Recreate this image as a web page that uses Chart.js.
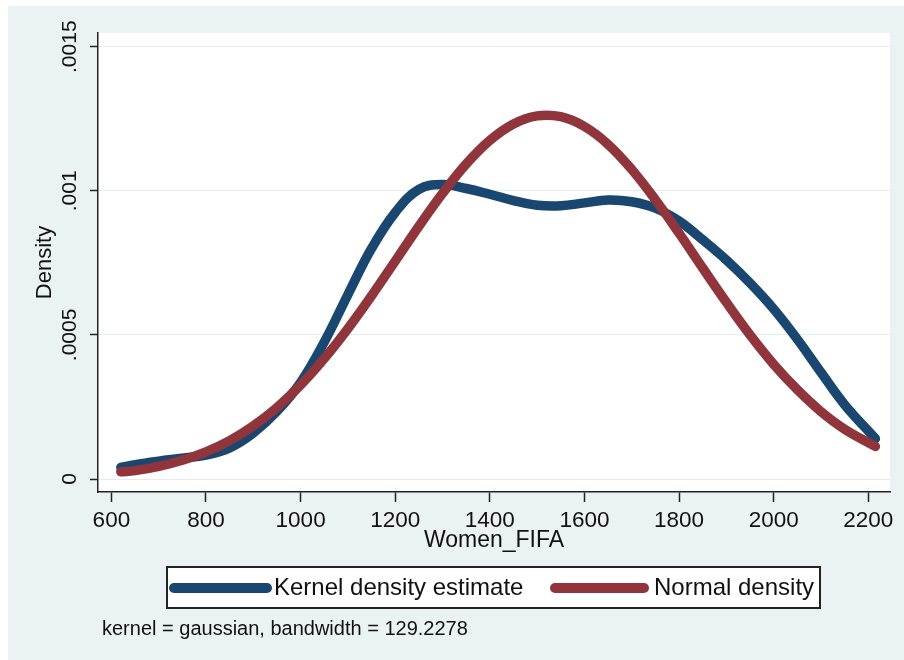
<!DOCTYPE html>
<html>
<head>
<meta charset="utf-8">
<title>Kernel density</title>
<script src="https://cdn.jsdelivr.net/npm/chart.js@4/dist/chart.umd.min.js"></script>
<style>
  html, body { margin: 0; padding: 0; background: #fff; }
  #wrap { position: relative; width: 904px; height: 660px; }
</style>
</head>
<body>
<div id="wrap"><canvas id="kd-chart" width="904" height="660"></canvas></div>
<script>
// values
var xValues = [620, 650, 700, 750, 800, 850, 900, 950, 1000, 1050, 1100, 1150, 1200, 1250, 1300, 1350, 1400,
  1450, 1500, 1550, 1600, 1650, 1700, 1750, 1800, 1850, 1900, 1950, 2000, 2050, 2100, 2150, 2215];
var kernelValues = [0.000040, 0.000050, 0.000062, 0.000072, 0.000083, 0.000108, 0.000160, 0.000235, 0.000335,
  0.000475, 0.000640, 0.000800, 0.000925, 0.001005, 0.001022, 0.001008, 0.000988, 0.000966, 0.000950, 0.000948,
  0.000958, 0.000968, 0.000962, 0.000940, 0.000895, 0.000830, 0.000760, 0.000680, 0.000590, 0.000485, 0.000370,
  0.000258, 0.000140];
var normalValues = [0.000025, 0.000029, 0.000044, 0.000065, 0.000094, 0.000133, 0.000184, 0.000248, 0.000326,
  0.000418, 0.000522, 0.000636, 0.000756, 0.000877, 0.000991, 0.001093, 0.001175, 0.001232, 0.001260, 0.001257,
  0.001223, 0.001161, 0.001074, 0.000969, 0.000853, 0.000732, 0.000613, 0.000500, 0.000398, 0.000310, 0.000234,
  0.000173, 0.000113];
var seriesNames = ['Kernel density estimate', 'Normal density'];
var xTicks = [600, 800, 1000, 1200, 1400, 1600, 1800, 2000, 2200];
var yTicks = [0, 0.0005, 0.001, 0.0015];
var yTickLabels = ['0', '.0005', '.001', '.0015'];
var xTitle = 'Women_FIFA';
var yTitle = 'Density';
var noteText = 'kernel = gaussian, bandwidth = 129.2278';

var NAVY = '#1a476f';
var MAROON = '#90353b';
var BG = '#eaf2f3';
var INK = '#111';
var FONT = '"Liberation Sans", Arial, sans-serif';

function pts(ys) {
  return xValues.map((x, i) => ({ x: x, y: ys[i] }));
}

// stata-ish frame, titles, legend and note
var stataFrame = {
  id: 'stataFrame',
  beforeDraw(chart) {
    var c = chart.ctx, a = chart.chartArea;
    c.save();
    c.fillStyle = BG;
    c.fillRect(8, 6, 896, 654);
    c.fillStyle = '#fff';
    c.fillRect(a.left, a.top, a.right - a.left, a.bottom - a.top);
    c.restore();
  },
  afterDraw(chart) {
    var c = chart.ctx, a = chart.chartArea;
    c.save();
    c.fillStyle = INK;
    c.textBaseline = 'middle';

    // axis titles
    c.font = '23px ' + FONT;
    c.textAlign = 'center';
    c.fillText(xTitle, (a.left + a.right) / 2, 541);
    c.save();
    c.translate(45, (a.top + a.bottom) / 2);
    c.rotate(-Math.PI / 2);
    c.font = '22px ' + FONT;
    c.fillText(yTitle, 0, 0);
    c.restore();

    // legend box
    c.fillStyle = '#fff';
    c.fillRect(167, 567, 653, 41);
    c.strokeStyle = '#222';
    c.lineWidth = 2;
    c.strokeRect(167, 567, 653, 41);

    var keys = [
      { x0: 174, x1: 267, tx: 274, color: NAVY },
      { x0: 555, x1: 644, tx: 654, color: MAROON }
    ];
    c.font = '24px ' + FONT;
    c.textAlign = 'left';
    keys.forEach((k, i) => {
      c.strokeStyle = k.color;
      c.lineWidth = 10;
      c.lineCap = 'round';
      c.beginPath();
      c.moveTo(k.x0, 588);
      c.lineTo(k.x1, 588);
      c.stroke();
      c.fillStyle = INK;
      c.fillText(seriesNames[i], k.tx, 588);
    });

    // note
    c.font = '20px ' + FONT;
    c.fillText(noteText, 102, 629);
    c.restore();
  }
};

var ctx = document.getElementById('kd-chart');
var kdChart = new Chart(ctx, {
  type: 'line',
  data: {
    datasets: [{
      label: seriesNames[0],
      data: pts(kernelValues),
      borderColor: NAVY,
      borderWidth: 9.5,
      pointRadius: 0,
      tension: 0.4,
      borderCapStyle: 'round',
      fill: false,
      order: 2
    }, {
      label: seriesNames[1],
      data: pts(normalValues),
      borderColor: MAROON,
      borderWidth: 9.5,
      pointRadius: 0,
      tension: 0.4,
      borderCapStyle: 'round',
      fill: false,
      order: 1
    }]
  },
  options: {
    responsive: false,
    animation: false,
    devicePixelRatio: 1,
    layout: { padding: { left: 0, top: 33, right: 14, bottom: 0 } },
    plugins: {
      legend: { display: false },
      title: { display: false },
      tooltip: { enabled: false }
    },
    scales: {
      x: {
        type: 'linear',
        min: 571.7,
        max: 2245.9,
        afterBuildTicks: s => { s.ticks = xTicks.map(v => ({ value: v })); },
        afterFit: s => { s.height = 168; },
        ticks: {
          autoSkip: false,
          maxRotation: 0,
          padding: 5,
          color: INK,
          font: { family: FONT, size: 22.5 },
          callback: v => String(v)
        },
        grid: {
          drawOnChartArea: false,
          tickLength: 10,
          tickColor: '#222',
          tickWidth: 1.5
        },
        border: { color: '#222', width: 1.5 }
      },
      y: {
        min: -0.0000451,
        max: 0.0015475,
        afterBuildTicks: s => { s.ticks = yTicks.map(v => ({ value: v })); },
        afterFit: s => { s.width = 98; },
        ticks: {
          autoSkip: false,
          minRotation: 90,
          maxRotation: 90,
          crossAlign: 'center',
          padding: -6,
          color: INK,
          font: { family: FONT, size: 21 },
          callback: v => yTickLabels[yTicks.indexOf(v)]
        },
        grid: {
          color: '#e3edef',
          lineWidth: 1,
          tickLength: 8,
          tickColor: '#222',
          tickWidth: 1.5
        },
        border: { color: '#222', width: 1.5 }
      }
    }
  },
  plugins: [stataFrame]
});
</script>
</body>
</html>
